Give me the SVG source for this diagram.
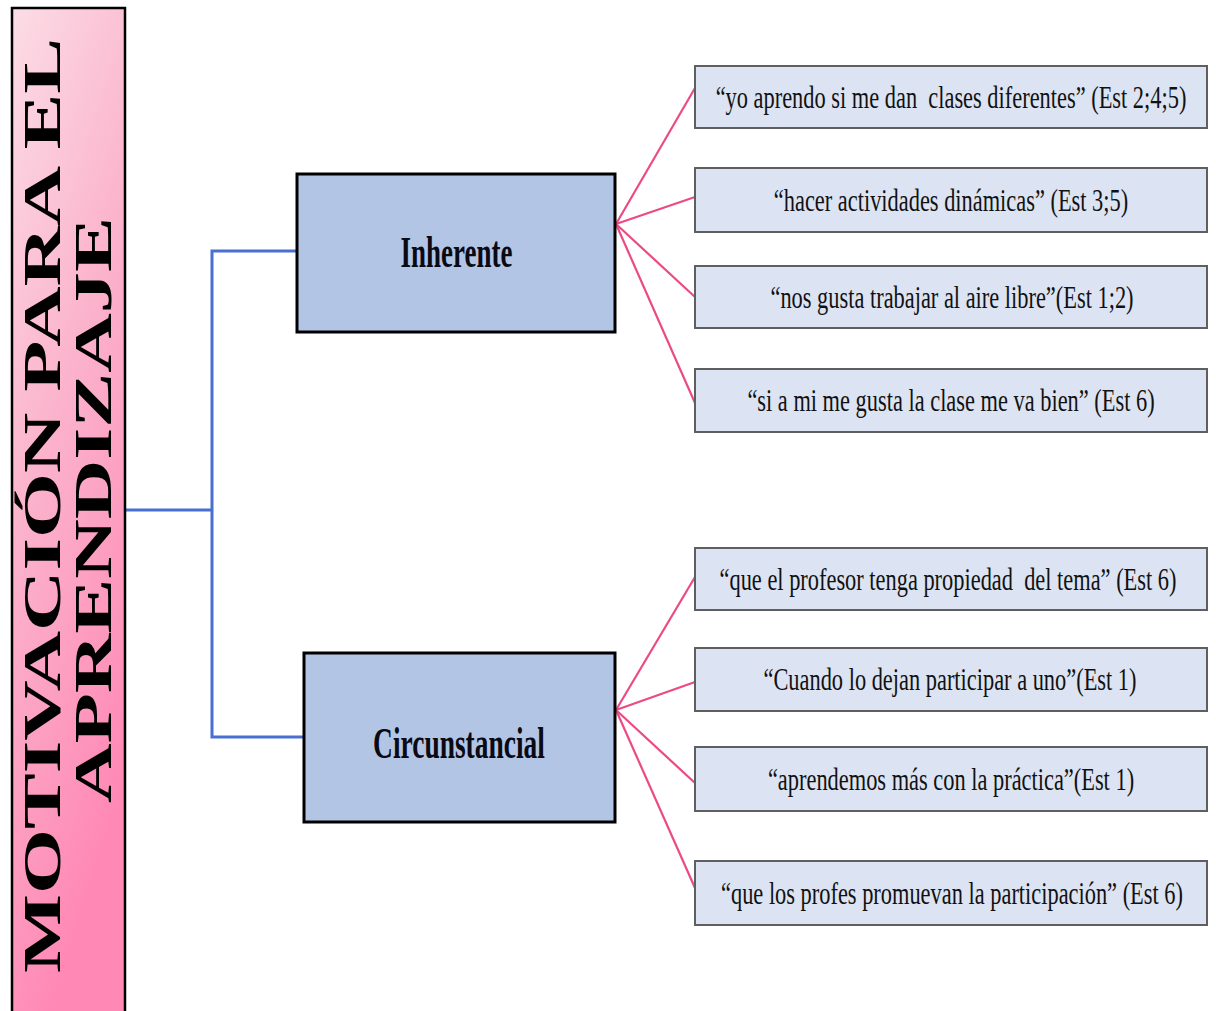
<svg xmlns="http://www.w3.org/2000/svg" width="1216" height="1011" viewBox="0 0 1216 1011">
<defs>
<linearGradient id="pinkGrad" x1="0" y1="0" x2="0.35" y2="1">
<stop offset="0" stop-color="#FCDDE6"/>
<stop offset="0.5" stop-color="#FBB1CB"/>
<stop offset="1" stop-color="#FF88B4"/>
</linearGradient>
<style>
.title{font-family:"Liberation Serif","Times New Roman",serif;font-weight:bold;font-size:53px;fill:#000}
.mid{fill:#B3C5E5;stroke:#000;stroke-width:3}
.midt{font-family:"Liberation Serif","Times New Roman",serif;font-weight:bold;font-size:45px;fill:#0a0a14;text-anchor:middle}
.leaf{fill:#DCE3F2;stroke:#5f5f5f;stroke-width:2}
.leaft{font-family:"Liberation Serif","Times New Roman",serif;font-size:32px;fill:#111;text-anchor:middle;white-space:pre}
.blue{fill:none;stroke:#4A6FD0;stroke-width:3}
.pink{fill:none;stroke:#EC4A85;stroke-width:2.2}
</style>
</defs>
<rect width="1216" height="1011" fill="#fff"/>
<g id="connectors">
<polyline class="blue" points="126,510 212,510"/>
<polyline class="blue" points="297,251 212,251 212,737 304,737"/>
<line class="pink" x1="616" y1="224" x2="695" y2="88"/>
<line class="pink" x1="616" y1="224" x2="695" y2="197"/>
<line class="pink" x1="616" y1="224" x2="695" y2="297"/>
<line class="pink" x1="616" y1="224" x2="695" y2="403"/>
<line class="pink" x1="616" y1="710" x2="695" y2="577"/>
<line class="pink" x1="616" y1="710" x2="695" y2="682"/>
<line class="pink" x1="616" y1="710" x2="695" y2="783"/>
<line class="pink" x1="616" y1="710" x2="695" y2="888"/>
</g>
<g id="title">
<rect x="12" y="8" width="113" height="1010" fill="url(#pinkGrad)" stroke="#000" stroke-width="2.5"/>
<text class="title" transform="translate(60,505.5) rotate(-90)" text-anchor="middle" textLength="935" lengthAdjust="spacingAndGlyphs">MOTIVACIÓN PARA EL</text>
<text class="title" transform="translate(111,510) rotate(-90)" text-anchor="middle" textLength="586" lengthAdjust="spacingAndGlyphs">APRENDIZAJE</text>
</g>
<g id="inherente">
<rect class="mid" x="297" y="174" width="318" height="158"/>
<text class="midt" transform="translate(456.5,267) scale(0.6,1)">Inherente</text>
</g>
<g id="circunstancial">
<rect class="mid" x="304" y="653" width="311" height="169"/>
<text class="midt" transform="translate(459,758) scale(0.61,1)">Circunstancial</text>
</g>
<g id="leaf1">
<rect class="leaf" x="695" y="66" width="512" height="62"/>
<text class="leaft" xml:space="preserve" transform="translate(951,108) scale(0.7,1)">“yo aprendo si me dan  clases diferentes” (Est 2;4;5)</text>
</g>
<g id="leaf2">
<rect class="leaf" x="695" y="168" width="512" height="64"/>
<text class="leaft" transform="translate(951,211) scale(0.7,1)">“hacer actividades dinámicas” (Est 3;5)</text>
</g>
<g id="leaf3">
<rect class="leaf" x="695" y="266" width="512" height="62"/>
<text class="leaft" transform="translate(952,308) scale(0.7,1)">“nos gusta trabajar al aire libre”(Est 1;2)</text>
</g>
<g id="leaf4">
<rect class="leaf" x="695" y="369" width="512" height="63"/>
<text class="leaft" transform="translate(951,411) scale(0.7,1)">“si a mi me gusta la clase me va bien” (Est 6)</text>
</g>
<g id="leaf5">
<rect class="leaf" x="695" y="548" width="512" height="62"/>
<text class="leaft" xml:space="preserve" transform="translate(948,590) scale(0.7,1)">“que el profesor tenga propiedad  del tema” (Est 6)</text>
</g>
<g id="leaf6">
<rect class="leaf" x="695" y="648" width="512" height="63"/>
<text class="leaft" transform="translate(950,690) scale(0.7,1)">“Cuando lo dejan participar a uno”(Est 1)</text>
</g>
<g id="leaf7">
<rect class="leaf" x="695" y="747" width="512" height="64"/>
<text class="leaft" transform="translate(951,790) scale(0.7,1)">“aprendemos más con la práctica”(Est 1)</text>
</g>
<g id="leaf8">
<rect class="leaf" x="695" y="861" width="512" height="64"/>
<text class="leaft" transform="translate(952,904) scale(0.7,1)">“que los profes promuevan la participación” (Est 6)</text>
</g>
</svg>
